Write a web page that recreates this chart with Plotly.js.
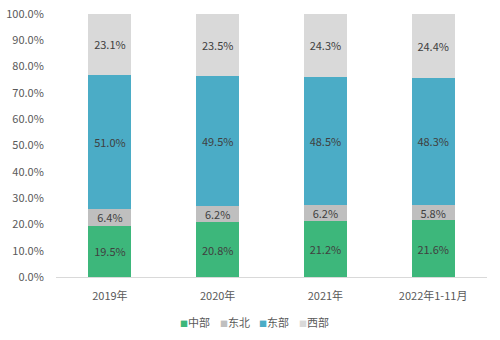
<!DOCTYPE html>
<html><head><meta charset="utf-8">
<script src="https://cdn.plot.ly/plotly-3.0.1.min.js"></script>
<style>html,body{margin:0;padding:0;background:#fff}</style>
</head><body><div id="chart" style="width:500px;height:340px"></div>
<script>
const categories = ['2019年','2020年','2021年','2022年1-11月'];
const central = [19.5, 20.8, 21.2, 21.6];
const northeast = [6.4, 6.2, 6.2, 5.8];
const eastern = [51.0, 49.5, 48.5, 48.3];
const western = [23.1, 23.5, 24.3, 24.4];
const seriesNames = ['中部','东北','东部','西部'];
const colors = ['#3DB77B','#BFBFBF','#4BACC6','#D9D9D9'];
const values = [central, northeast, eastern, western];
const font = 'Microsoft YaHei, "Noto Sans CJK SC", sans-serif';
const traces = values.map((v,i)=>({
  type:'bar', x:categories, y:v, name:seriesNames[i],
  marker:{color:colors[i]},
  texttemplate:'%{y:.1f}%', textposition:'inside', insidetextanchor:'middle',
  textfont:{color:'#404040', size:11, family:font},
  constraintext:'none', hoverinfo:'none', showlegend:false
}));
// legend drawn as text entries below the plot
const legendX = [178, 218, 257, 297];
const annotations = seriesNames.map((n,i)=>({
  xref:'paper', yref:'paper',
  x:(legendX[i]-56)/431, y:-0.172, xanchor:'left', yanchor:'middle',
  showarrow:false,
  text:'<span style="color:'+colors[i]+';font-size:8px">■</span>'+n,
  font:{size:11, color:'#595959', family:font}
}));
Plotly.newPlot('chart', traces, {
  width:500, height:340, barmode:'stack', bargap:0.60,
  margin:{l:56, r:13, t:14, b:63},
  paper_bgcolor:'#fff', plot_bgcolor:'#fff',
  font:{family:font, color:'#595959', size:11},
  xaxis:{showline:true, linecolor:'#D9D9D9', linewidth:1, ticks:'outside', ticklen:9, tickcolor:'rgba(0,0,0,0)', tickfont:{size:11, color:'#595959'}},
  yaxis:{range:[0,100], dtick:10, tickformat:'.1f', ticksuffix:'%', showgrid:false, zeroline:false, showline:false,
         ticks:'outside', ticklen:9, tickcolor:'rgba(0,0,0,0)', tickfont:{size:11, color:'#595959'}},
  annotations:annotations,
  showlegend:false
}, {staticPlot:true});
</script></body></html>
